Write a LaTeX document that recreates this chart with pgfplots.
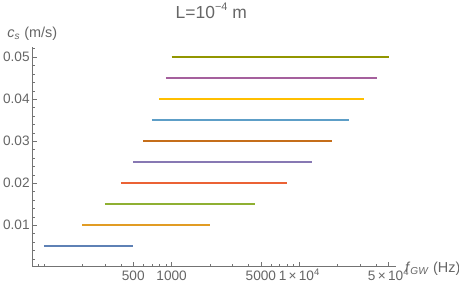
\documentclass[border=0pt]{standalone}
\usepackage{fontspec}
\setmainfont{Liberation Sans}
\usepackage{pgfplots}
\pgfplotsset{compat=1.18}
\definecolor{mmaA}{rgb}{0.368417,0.506779,0.709798}
\definecolor{mmaB}{rgb}{0.880722,0.611041,0.142051}
\definecolor{mmaC}{rgb}{0.560181,0.691569,0.194885}
\definecolor{mmaD}{rgb}{0.922526,0.385626,0.209179}
\definecolor{mmaE}{rgb}{0.528488,0.470624,0.701351}
\definecolor{mmaF}{rgb}{0.772079,0.431554,0.102387}
\definecolor{mmaG}{rgb}{0.363898,0.618501,0.782349}
\definecolor{mmaH}{rgb}{1,0.75,0}
\definecolor{mmaI}{rgb}{0.647624,0.37816,0.614037}
\definecolor{mmaJ}{rgb}{0.571589,0.586483,0}
\definecolor{txtgray}{rgb}{0.4,0.4,0.4}
\definecolor{axgray}{rgb}{0.45,0.45,0.45}
\begin{document}
\begin{tikzpicture}
\begin{axis}[
  at={(0,0)}, anchor=south west,
  scale only axis, width=363.4bp, height=219.6bp,
  xmode=log, xmin=81, xmax=56900, ymin=0.00024, ymax=0.0525,
  axis lines=left, axis line style={-, axgray, line width=0.6bp},
  tick style={axgray, line width=0.6bp},
  tick align=inside,
  major tick length=4.5bp, minor tick length=2.5bp,
  xtick={500,1000,5000,10000,50000},
  xticklabels={500,1000,5000,{1\,×\,10\textsuperscript{4}},{5\,×\,10\textsuperscript{4}}},
  minor xtick={90,100,200,300,400,600,700,800,900,2000,3000,4000,6000,7000,8000,9000,20000,30000,40000},
  ytick={0.01,0.02,0.03,0.04,0.05},
  minor ytick={0.002,0.004,0.006,0.008,0.012,0.014,0.016,0.018,0.022,0.024,0.026,0.028,0.032,0.034,0.036,0.038,0.042,0.044,0.046,0.048,0.052},
  scaled y ticks=false,
  yticklabel={\pgfmathprintnumber[fixed,fixed zerofill,precision=2,assume math mode=true]{\tick}},
  ticklabel style={font=\fontsize{13.7}{13.7}\selectfont, text=txtgray},
  xticklabel style={text height=13bp, text depth=0pt, inner sep=1bp},
  yticklabel style={inner sep=2.5bp},
  every axis title shift=0pt,
  title={L=10\raisebox{0.42em}{\fontsize{11}{11}\selectfont −4} m},
  title style={at={(axis description cs:0.4926,1.1293)}, anchor=base, inner sep=0pt, font=\fontsize{17.5}{17.5}\selectfont, text=txtgray},
  ylabel={\textit{c}\textsubscript{\textit{s}} (m/s)},
  ylabel style={rotate=-90, at={(axis description cs:0,1.044)}, anchor=base, inner sep=0pt, font=\fontsize{14.5}{14.5}\selectfont, text=txtgray},
  xlabel={\textit{f}\textsubscript{\textit{GW}} (Hz)},
  xlabel style={at={(axis description cs:1.0256,-0.0273)}, anchor=base west, inner sep=0pt, font=\fontsize{14.5}{14.5}\selectfont, text=txtgray},
  clip=false,
]
\addplot[color=mmaA, line width=1.8bp, no markers] coordinates {(100,0.005) (500,0.005)};
\addplot[color=mmaB, line width=1.8bp, no markers] coordinates {(200,0.010) (2000,0.010)};
\addplot[color=mmaC, line width=1.8bp, no markers] coordinates {(300,0.015) (4500,0.015)};
\addplot[color=mmaD, line width=1.8bp, no markers] coordinates {(400,0.020) (8000,0.020)};
\addplot[color=mmaE, line width=1.8bp, no markers] coordinates {(500,0.025) (12500,0.025)};
\addplot[color=mmaF, line width=1.8bp, no markers] coordinates {(600,0.030) (18000,0.030)};
\addplot[color=mmaG, line width=1.8bp, no markers] coordinates {(700,0.035) (24500,0.035)};
\addplot[color=mmaH, line width=1.8bp, no markers] coordinates {(800,0.040) (32000,0.040)};
\addplot[color=mmaI, line width=1.8bp, no markers] coordinates {(900,0.045) (40500,0.045)};
\addplot[color=mmaJ, line width=1.8bp, no markers] coordinates {(1000,0.050) (50000,0.050)};
\end{axis}
\pgfresetboundingbox
\path[use as bounding box] (-32.3bp,-24.7bp) rectangle (426.7bp,266.3bp);
\end{tikzpicture}
\end{document}
